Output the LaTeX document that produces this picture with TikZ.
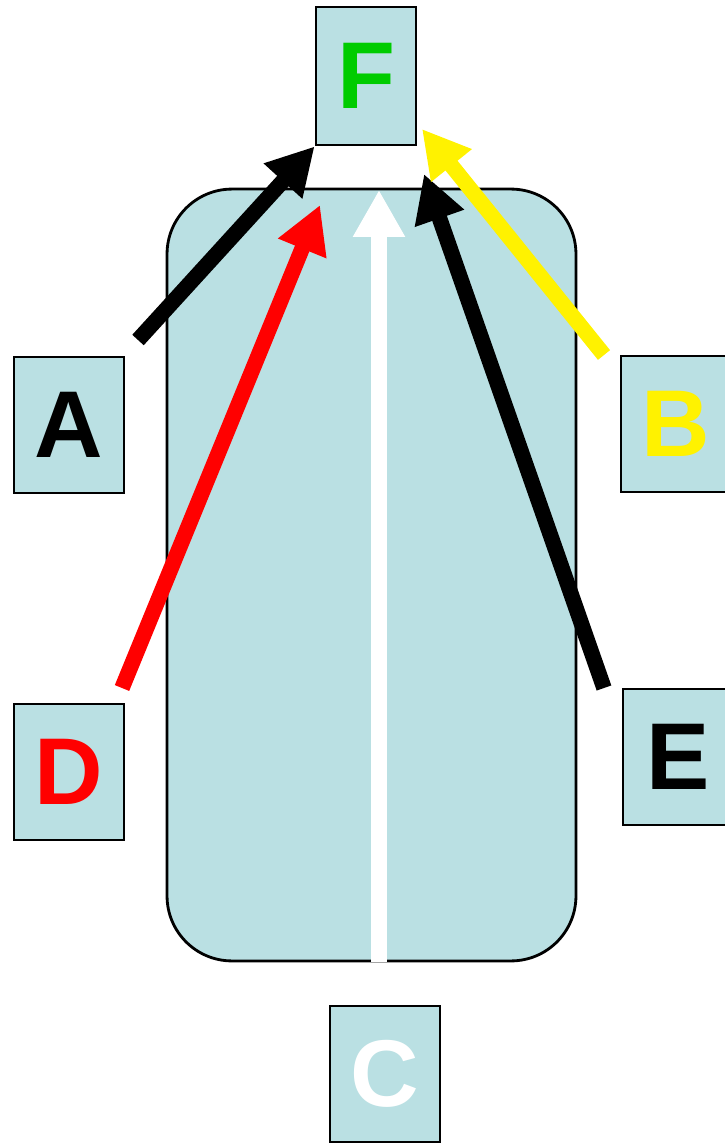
\documentclass[tikz,border=0pt]{standalone}
\usepackage{fontspec}
\setmainfont{Liberation Sans}
\usetikzlibrary{arrows.meta}
\definecolor{boxblue}{RGB}{186,224,227}
\definecolor{fgreen}{RGB}{0,204,0}
\begin{document}
\begin{tikzpicture}[x=0.02cm,y=-0.02cm]
	\tikzset{letter/.style = {draw,line width=1.6pt,fill=boxblue,minimum width=2.2cm,minimum height=2.72cm,inner sep=0pt,font=\fontsize{54}{54}\selectfont\bfseries}}
	\tikzset{flow/.style = {line width=0.31cm,-{Triangle[length=0.94cm,width=0.98cm]}}}
	\useasboundingbox (0,0) rectangle (724,1145);
	\node[draw,line width=1.6pt,fill=boxblue,rounded corners=1.3cm,minimum width=8.18cm,minimum height=15.44cm] (body) at (371.5,575) {};
	\node[letter,minimum width=2cm,minimum height=2.76cm,text=fgreen] (f) at (366,76) {F};
	\node[letter] (a) at (69,425) {A};
	\node[letter,text=yellow] (b) at (676,424) {B};
	\node[letter,text=white] (c) at (385,1074) {C};
	\node[letter,text=red] (d) at (69,772) {D};
	\node[letter] (e) at (678,757) {E};
	\coordinate (atail) at (138,340);
	\coordinate (btail) at (604,355);
	\coordinate (ctail) at (379,962);
	\coordinate (dtail) at (122,688);
	\coordinate (etail) at (604,688);
	\coordinate (btip) at (422,129);
	\coordinate (ctip) at (379,190);
	\coordinate (dtip) at (320,205);
	\coordinate (etip) at (424,174);
	\draw[flow,black] (atail) -- (f.south west);
	\draw[flow,red] (dtail) -- (dtip);
	\draw[flow,white] (ctail) -- (ctip);
	\draw[flow,black] (etail) -- (etip);
	\draw[flow,yellow] (btail) -- (btip);
\end{tikzpicture}
\end{document}
